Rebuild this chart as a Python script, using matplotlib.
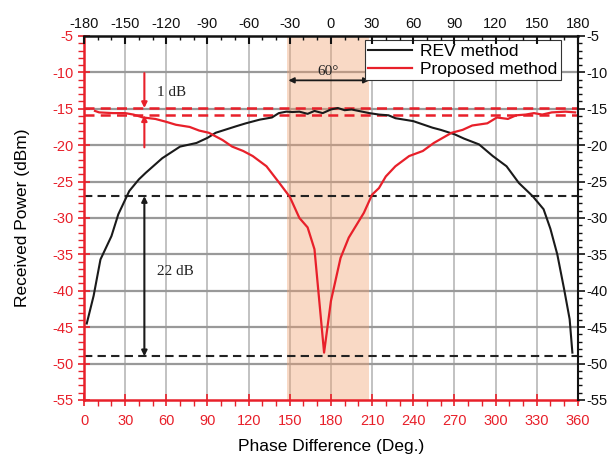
import numpy as np
import matplotlib
matplotlib.use("Agg")
from matplotlib import pyplot as plt
from matplotlib.ticker import MultipleLocator

plt.rcParams['font.family'] = ['Liberation Sans', 'DejaVu Sans']
plt.rcParams['axes.unicode_minus'] = False

# REV method (black)
rev_x = [2, 7, 12, 20, 25, 30, 33, 40, 45, 57, 70, 82, 90, 96, 111, 118, 128, 137, 142,
         147.5, 152, 157, 163, 168, 174, 180, 185, 190, 195, 208, 215, 222, 227, 240,
         254, 260, 270, 277, 288, 298, 308, 317, 327, 335, 340, 345, 350, 354, 356]
rev_y = [-44.5, -40.7, -35.7, -32.5, -29.5, -27.5, -26.3, -24.7, -23.8, -21.8, -20.2,
         -19.7, -19.0, -18.3, -17.4, -17.0, -16.5, -16.2, -15.6,
         -15.4, -15.45, -15.4, -15.7, -15.3, -15.6, -15.1, -14.9, -15.2, -15.1, -15.6,
         -15.8, -15.9, -16.3, -16.7, -17.6, -17.9, -18.5, -19.1, -19.9, -21.5, -22.9,
         -25.2, -27.0, -28.8, -31.5, -35.0, -39.8, -43.9, -48.5]

# Proposed method (red)
pro_x = [8, 11, 21, 30, 36, 43, 52, 60, 67, 77, 84, 91, 101, 108, 116, 123, 133, 142,
         150, 157, 163, 168, 175, 180, 187, 193, 204, 210, 215, 220, 227, 237, 247, 255,
         268, 276, 283, 294, 301, 309, 315, 322, 328, 334, 341, 351, 358]
pro_y = [-15.3, -15.5, -15.6, -15.6, -15.8, -16.2, -16.4, -16.8, -17.2, -17.5, -18.0,
         -18.3, -19.3, -20.2, -20.8, -21.5, -22.9, -25.1, -27.1, -30.0, -31.3, -34.3,
         -48.5, -41.4, -35.5, -32.7, -29.3, -26.8, -25.9, -24.3, -22.9, -21.5, -20.8,
         -19.7, -18.3, -17.9, -17.3, -17.0, -16.2, -16.4, -15.9, -15.8, -15.6, -15.8,
         -15.5, -15.4, -15.5]

red_levels = [-14.9, -15.9]
black_levels = [-27.0, -49.0]
shade = (148, 208)

red = '#e8202a'
fig = plt.figure(figsize=(6.07, 4.55), dpi=100)
ax = fig.add_axes([0.1384, 0.121, 0.8136, 0.8])

ax.set_xlim(0, 360)
ax.set_ylim(-55, -5)
ax.set_xticks(np.arange(0, 361, 30))
ax.set_yticks(np.arange(-55, -4, 5))
ax.xaxis.set_minor_locator(MultipleLocator(10))
ax.yaxis.set_minor_locator(MultipleLocator(1))

# grid
for gx in range(30, 360, 30):
    ax.axvline(gx, color='#bdbdbd', lw=1.3, zorder=0.5)
for gy in range(-50, -5, 5):
    ax.axhline(gy, color='#999999', lw=1.6, zorder=0.5)

ax.axvspan(shade[0], shade[1], color='#f0a070', alpha=0.4, lw=0, zorder=1)

for lv in red_levels:
    ax.axhline(lv, color=red, lw=1.8, ls=(0, (4, 2.5)), zorder=2)
for lv in black_levels:
    ax.axhline(lv, color='#222222', lw=1.5, ls=(0, (4, 2.5)), zorder=2)

ax.plot(rev_x, rev_y, color='#1a1a1a', lw=1.5, label='REV method', zorder=3)
ax.plot(pro_x, pro_y, color=red, lw=1.6, label='Proposed method', zorder=3)

# annotations
ax.annotate('', xy=(44, red_levels[0]), xytext=(44, -10.1),
            arrowprops=dict(arrowstyle='-|>', color=red, lw=1.5, mutation_scale=8, shrinkA=0, shrinkB=0))
ax.annotate('', xy=(44, red_levels[1]), xytext=(44, -20.3),
            arrowprops=dict(arrowstyle='-|>', color=red, lw=1.5, mutation_scale=8, shrinkA=0, shrinkB=0))
ax.annotate('', xy=(44, black_levels[0]), xytext=(44, black_levels[1]),
            arrowprops=dict(arrowstyle='<|-|>', color='#1a1a1a', lw=1.5, mutation_scale=8, shrinkA=0, shrinkB=0))
ax.annotate('', xy=(149, -11.1), xytext=(208, -11.1),
            arrowprops=dict(arrowstyle='<|-|>', color='#1a1a1a', lw=1.3, mutation_scale=8, shrinkA=0, shrinkB=0))
ax.text(53, -12.8, '1 dB', family='Liberation Serif', fontsize=11, va='center', color='#222222')
ax.text(53, -37.3, '22 dB', family='Liberation Serif', fontsize=11, va='center', color='#222222')
ax.text(178, -9.9, '60°', family='Liberation Serif', fontsize=11, va='center', ha='center', color='#222222')

leg = ax.legend(loc='upper right', bbox_to_anchor=(0.966, 0.988), fontsize=12.5,
                fancybox=False, framealpha=1, edgecolor='#333333', handlelength=2.5,
                borderpad=0.2, labelspacing=0.15, handletextpad=0.5, borderaxespad=0)
leg.get_frame().set_linewidth(0.8)
leg.set_zorder(5)

ax.tick_params(axis='both', which='major', labelsize=10.5, colors=red, direction='inout', length=8, width=1.2)
ax.tick_params(axis='both', which='minor', colors=red, direction='out', length=4, width=1)
ax.tick_params(axis='x', pad=6)
ax.spines['left'].set_color(red)
ax.spines['bottom'].set_color(red)
ax.spines['left'].set_linewidth(1.8)
ax.spines['bottom'].set_linewidth(1.8)
ax.spines['top'].set_visible(False)
ax.spines['right'].set_visible(False)

ax.set_xlabel('Phase Difference (Deg.)', fontsize=12.5, labelpad=8)
ax.set_ylabel('Received Power (dBm)', fontsize=12.5, labelpad=16)

# top axis
axt = ax.twiny()
axt.set_xlim(-180, 180)
axt.set_xticks(np.arange(-180, 181, 30))
axt.xaxis.set_minor_locator(MultipleLocator(10))
axt.tick_params(axis='x', which='major', direction='in', length=6, width=1.5, labelsize=10.5, colors='#111111')
axt.tick_params(axis='x', which='minor', direction='in', length=3, width=1, colors='#111111')
for s in ['left', 'right', 'bottom']:
    axt.spines[s].set_visible(False)
axt.spines['top'].set_linewidth(1.8)
axt.spines['top'].set_color('#111111')

# right axis
axr = ax.twinx()
axr.set_ylim(-55, -5)
axr.set_yticks(np.arange(-55, -4, 5))
axr.yaxis.set_minor_locator(MultipleLocator(1))
axr.tick_params(axis='y', which='major', direction='out', length=5, width=1.2, labelsize=10.5,
                colors='#111111', pad=1)
axr.tick_params(axis='y', which='minor', direction='out', length=3, width=1, colors='#111111')
for s in ['left', 'top', 'bottom']:
    axr.spines[s].set_visible(False)
axr.spines['right'].set_linewidth(1.5)
axr.spines['right'].set_color('#111111')

fig.savefig('out.png', dpi=100)
